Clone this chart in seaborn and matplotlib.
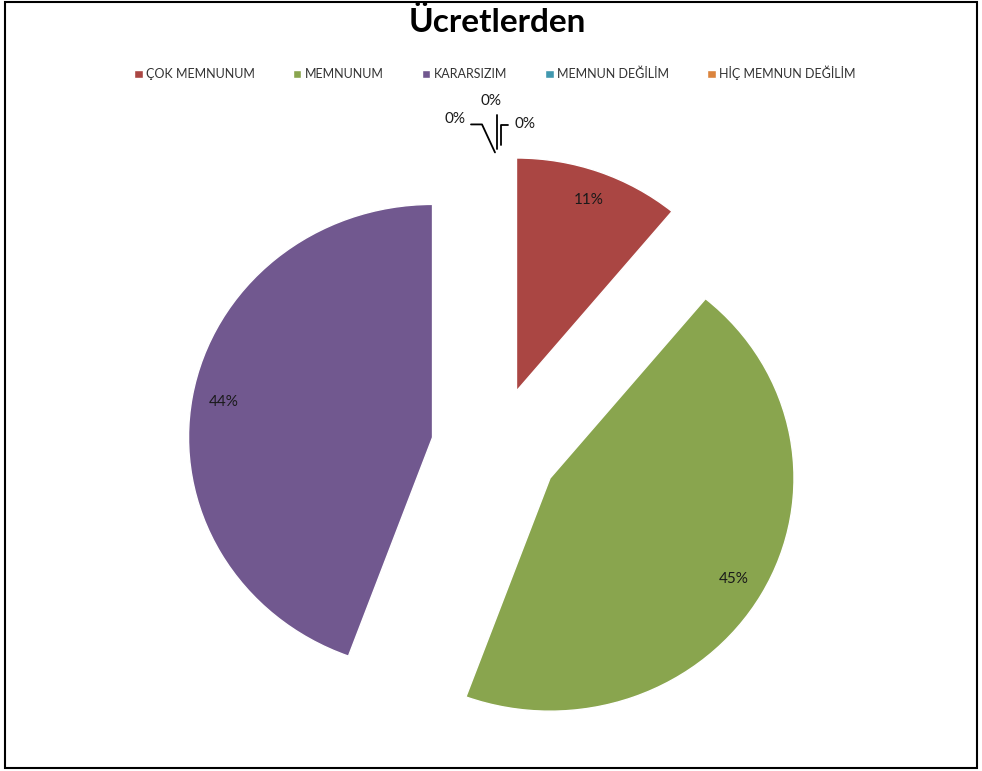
import matplotlib
matplotlib.use('Agg')
import matplotlib.pyplot as plt
from matplotlib.patches import Rectangle
from matplotlib.transforms import IdentityTransform
import numpy as np
import seaborn as sns

sns.set_theme(style='white')
plt.rcParams['font.family'] = ['Lato', 'DejaVu Sans']

# Veriler
kategoriler = ['ÇOK MEMNUNUM', 'MEMNUNUM', 'KARARSIZIM', 'MEMNUN DEĞİLİM', 'HİÇ MEMNUN DEĞİLİM', '']
degerler = [11.0, 44.6, 44.4, 0, 0, 0]
renkler = ['#AA4643', '#89A54E', '#71588F', '#4198AF', '#DB843D', '#93A9CF']

W, H = 982, 771
fig = plt.figure(figsize=(W / 100, H / 100), dpi=100)
ax = fig.add_axes([0, 0, 1, 1])

# pasta merkezi ve yarıçapları (piksel) - Excel biraz basık çiziyor
cx, cy, rx, ry = 495, 448, 244, 233
patlatma = 0.26

def yuzde(p):
    return '%1.0f%%' % p if p > 0.5 else ''

wedges, _, autotexts = ax.pie(degerler, colors=renkler, startangle=90,
                              counterclock=False, explode=[patlatma] * len(degerler),
                              autopct=yuzde, pctdistance=0.87,
                              textprops={'fontsize': 11, 'color': '#1a1a1a'})
ax.set_xlim(-cx / rx, (W - cx) / rx)
ax.set_ylim(-(H - cy) / ry, cy / ry)
ax.set_aspect('auto')
ax.axis('off')

# sıfır dilimlerin etiketleri ve bağlantı çizgileri (uç noktaya göre piksel ofsetleri)
fig.canvas.draw()
ux, uy = ax.transData.transform((0, 1 + patlatma))
etiketler = [(-40, 35), (-4, 53), (30, 30)]
cizgiler = [([-24, -13, 0], [30, 30, 2]),
            ([2, 2], [39, 5]),
            ([13, 6, 6], [29, 29, 9])]
for (ox, oy) in etiketler:
    fig.text((ux + ox) / W, (uy + oy) / H, '0%', fontsize=11, color='#1a1a1a',
             ha='center', va='center')
for xs, ys in cizgiler:
    fig.add_artist(plt.Line2D([ux + v for v in xs], [uy + v for v in ys],
                              transform=IdentityTransform(), color='black', lw=1.3))

fig.text(0.506, 0.971, 'Ücretlerden', ha='center', va='center',
         fontsize=24, fontweight='bold', color='black')

fig.legend(wedges[:5], kategoriler[:5], loc='center', bbox_to_anchor=(0.504, 0.905),
           ncol=5, frameon=False, fontsize=9, handlelength=0.7, handleheight=0.7,
           handletextpad=0.3, columnspacing=3.0, labelcolor='#333333')

fig.patches.append(Rectangle((5 / W, 1 - 768 / H), 972 / W, 766 / H, transform=fig.transFigure,
                             fill=False, edgecolor='black', lw=1.5))

fig.savefig('out.png', dpi=100)
